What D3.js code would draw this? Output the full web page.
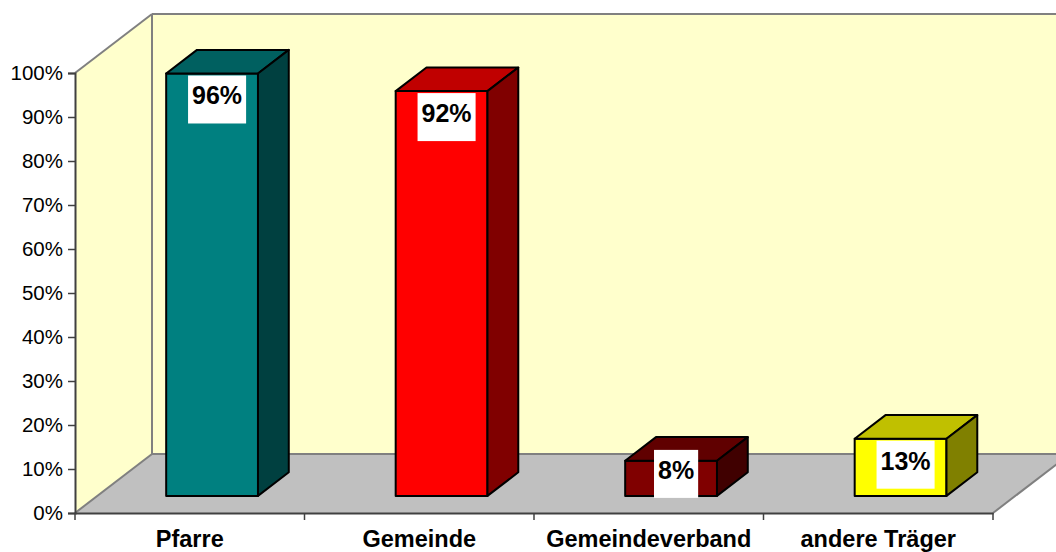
<!DOCTYPE html>
<html>
<head>
<meta charset="utf-8">
<script src="https://cdn.jsdelivr.net/npm/d3@7"></script>
<style>
  body { margin: 0; background: #fff; }
  svg { display: block; font-family: Arial, "Liberation Sans", sans-serif; }
</style>
</head>
<body>
<svg id="chart"></svg>
<script>
// data
const categories = ['Pfarre', 'Gemeinde', 'Gemeindeverband', 'andere Träger'];
const values = [96, 92, 8, 13];
const yTicks = [0, 10, 20, 30, 40, 50, 60, 70, 80, 90, 100];
const frontColors = ['#008080', '#ff0000', '#800000', '#ffff00'];
const topColors = ['#006060', '#c00000', '#600000', '#c0c000'];
const sideColors = ['#004040', '#800000', '#400000', '#808000'];

const width = 1056;
const height = 552;

// 3d offsets of the plot box (depth direction)
const DX = 77;
const DY = -59;
const d0 = 0.29; // bar front depth
const d1 = 0.69; // bar back depth

const svg = d3.select('#chart')
  .attr('width', width)
  .attr('height', height);

const xScale = d3.scaleBand()
  .domain(categories)
  .range([75, 993])
  .paddingInner(0.6)
  .paddingOuter(0.3);

const yScale = d3.scaleLinear()
  .domain([0, 100])
  .range([513, 73]);

const x0 = xScale.range()[0];
const x1 = xScale.range()[1];
const y0 = yScale(0);
const yTop = yScale(100);

const P = (x, y, d) => [x + d * DX, y + d * DY];
const pts = arr => arr.map(p => p.join(',')).join(' ');

// back wall
svg.append('rect')
  .attr('x', x0 + DX)
  .attr('y', yTop + DY)
  .attr('width', width - (x0 + DX) + 2)
  .attr('height', y0 - yTop)
  .attr('fill', '#ffffcc');

// side wall
svg.append('polygon')
  .attr('points', pts([P(x0, y0, 0), P(x0, yTop, 0), P(x0, yTop, 1), P(x0, y0, 1)]))
  .attr('fill', '#ffffcc');

// floor
svg.append('polygon')
  .attr('points', pts([P(x0, y0, 0), P(x1, y0, 0), P(x1, y0, 1), P(x0, y0, 1)]))
  .attr('fill', '#c0c0c0');

// wall edges
const edges = [
  [P(x0, yTop, 0), P(x0, yTop, 1)],
  [P(x0, yTop, 1), [width + 2, yTop + DY]],
  [P(x0, yTop, 1), P(x0, y0, 1)],
  [P(x0, y0, 1), P(x1, y0, 1)],
  [P(x0, y0, 0), P(x0, y0, 1)],
  [P(x1, y0, 0), P(x1, y0, 1)]
];
svg.append('g')
  .selectAll('line')
  .data(edges)
  .enter()
  .append('line')
  .attr('x1', d => d[0][0])
  .attr('y1', d => d[0][1])
  .attr('x2', d => d[1][0])
  .attr('y2', d => d[1][1])
  .attr('stroke', '#808080')
  .attr('stroke-width', 2);

// y axis
const yAxis = d3.axisLeft(yScale)
  .tickValues(yTicks)
  .tickSize(7)
  .tickPadding(5)
  .tickFormat(d => d + '%');

const gy = svg.append('g')
  .attr('transform', `translate(${x0}, 0)`)
  .call(yAxis);
gy.select('.domain').attr('stroke', '#404040').attr('stroke-width', 2);
gy.selectAll('.tick line').attr('stroke', '#404040').attr('stroke-width', 1.5);
gy.selectAll('.tick text')
  .attr('font-size', 20.5)
  .attr('font-family', 'Arial, "Liberation Sans", sans-serif')
  .attr('fill', '#000');

// x axis
const xAxis = d3.axisBottom(xScale).tickSize(0).tickPadding(0);
const gx = svg.append('g')
  .attr('transform', `translate(0, ${y0})`)
  .call(xAxis);
gx.select('.domain').attr('stroke', '#404040').attr('stroke-width', 2);
gx.selectAll('.tick text')
  .attr('font-size', 23.5)
  .attr('font-weight', 'bold')
  .attr('font-family', 'Arial, "Liberation Sans", sans-serif')
  .attr('fill', '#000')
  .attr('dy', 0)
  .attr('y', 34);

// category separators
const step = xScale.step();
const sepX = d3.range(categories.length + 1).map(i => x0 + i * step);
svg.append('g')
  .selectAll('line')
  .data(sepX)
  .enter()
  .append('line')
  .attr('x1', d => d)
  .attr('x2', d => d)
  .attr('y1', y0)
  .attr('y2', y0 + 7)
  .attr('stroke', '#404040')
  .attr('stroke-width', 1.5);

// bars
const bars = svg.append('g')
  .selectAll('g')
  .data(categories.map((c, i) => ({ c, v: values[i], i })))
  .enter()
  .append('g');

const bw = xScale.bandwidth();

bars.append('polygon') // front
  .attr('points', d => {
    const xa = xScale(d.c), xb = xa + bw;
    return pts([P(xa, yScale(d.v), d0), P(xb, yScale(d.v), d0), P(xb, y0, d0), P(xa, y0, d0)]);
  })
  .attr('fill', d => frontColors[d.i]);

bars.append('polygon') // top
  .attr('points', d => {
    const xa = xScale(d.c), xb = xa + bw, yv = yScale(d.v);
    return pts([P(xa, yv, d0), P(xb, yv, d0), P(xb, yv, d1), P(xa, yv, d1)]);
  })
  .attr('fill', d => topColors[d.i]);

bars.append('polygon') // side
  .attr('points', d => {
    const xb = xScale(d.c) + bw, yv = yScale(d.v);
    return pts([P(xb, yv, d0), P(xb, yv, d1), P(xb, y0, d1), P(xb, y0, d0)]);
  })
  .attr('fill', d => sideColors[d.i]);

bars.selectAll('polygon')
  .attr('stroke', '#000')
  .attr('stroke-width', 2)
  .attr('stroke-linejoin', 'round');

// data labels
const labelH = 48;
const labels = bars.append('g')
  .attr('transform', d => {
    const [fx, fy] = P(xScale(d.c) + bw / 2, yScale(d.v), d0);
    let cy = fy + 26;
    cy = Math.min(cy, y0 + d0 * DY + 2 - labelH / 2);
    return `translate(${fx + 5}, ${cy})`;
  });

labels.append('text')
  .attr('text-anchor', 'middle')
  .attr('y', 5)
  .attr('font-size', 25)
  .attr('font-weight', 'bold')
  .attr('fill', '#000')
  .text(d => d.v + '%');

labels.each(function() {
  const g = d3.select(this);
  const bb = g.select('text').node().getBBox();
  g.insert('rect', 'text')
    .attr('x', -bb.width / 2 - 4)
    .attr('y', -labelH / 2)
    .attr('width', bb.width + 8)
    .attr('height', labelH)
    .attr('fill', '#fff');
});
</script>
</body>
</html>
